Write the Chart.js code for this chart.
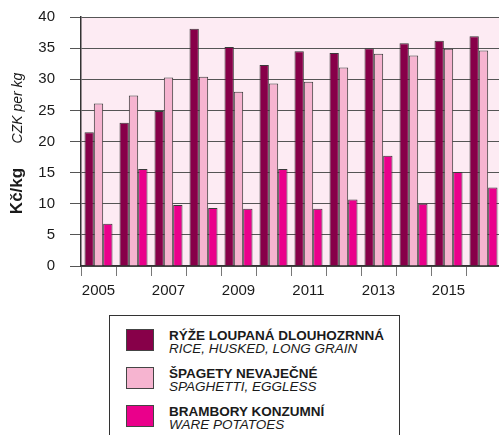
<!DOCTYPE html>
<html>
<head>
<meta charset="utf-8">
<script src="https://cdn.jsdelivr.net/npm/chart.js@4.4.1/dist/chart.umd.min.js"></script>
<style>
  html, body { margin: 0; padding: 0; background: #fff; overflow: hidden; width: 499px; height: 435px; }
  #wrap { position: absolute; left: 0; top: 0; width: 510px; height: 300px; }
  #legend { position: absolute; left: 109px; top: 315px; width: 289px; height: 140px; border: 1px solid #333; font-family: "Liberation Sans", Arial, sans-serif; color: #1a1a1a; }
  .item { position: absolute; left: 16px; }
  .sw { position: absolute; left: 0; top: 0; width: 28px; height: 22px; border: 1px solid #444; box-sizing: border-box; }
  .txt { position: absolute; left: 43px; top: 0; white-space: nowrap; font-size: 13.5px; line-height: 13px; }
  .txt b { display: block; }
  .txt i { display: block; }
</style>
</head>
<body>
<div id="wrap"><canvas id="myChart" width="510" height="300"></canvas></div>
<div id="legend"></div>
<script>
  // Données
  const years = ['2005', '2006', '2007', '2008', '2009', '2010', '2011', '2012', '2013', '2014', '2015', '2016'];
  const rice = [21.5, 23.0, 24.9, 38.1, 35.2, 32.3, 34.5, 34.2, 35.0, 35.8, 36.2, 36.9];
  const spaghetti = [26.1, 27.4, 30.3, 30.4, 28.0, 29.3, 29.6, 31.9, 34.1, 33.8, 34.9, 34.6];
  const potatoes = [6.8, 15.6, 9.8, 9.3, 9.2, 15.6, 9.2, 10.7, 17.7, 10.0, 15.1, 12.6];
  const yTicks = [0, 5, 10, 15, 20, 25, 30, 35, 40];

  const seriesCz = ['RÝŽE LOUPANÁ DLOUHOZRNNÁ', 'ŠPAGETY NEVAJEČNÉ', 'BRAMBORY KONZUMNÍ'];
  const seriesEn = ['RICE, HUSKED, LONG GRAIN', 'SPAGHETTI, EGGLESS', 'WARE POTATOES'];
  const colors = ['#870049', '#f6b4d0', '#ea008b'];

  const font = '"Liberation Sans", Arial, sans-serif';

  // fond rose de la zone du graphique + titres de l'axe Y
  const plotBg = {
    id: 'plotBg',
    beforeDraw(chart) {
      const { ctx, chartArea } = chart;
      ctx.save();
      ctx.fillStyle = '#fdebf3';
      ctx.fillRect(chartArea.left, chartArea.top, chartArea.right - chartArea.left, chartArea.bottom - chartArea.top);
      ctx.restore();
    },
    afterDraw(chart) {
      const ctx = chart.ctx;
      ctx.save();
      ctx.fillStyle = '#1a1a1a';
      ctx.textAlign = 'center';
      ctx.textBaseline = 'middle';
      ctx.translate(17, 191);
      ctx.rotate(-Math.PI / 2);
      ctx.font = 'bold 17px ' + font;
      ctx.fillText('Kč/kg', 0, 0);
      ctx.restore();
      ctx.save();
      ctx.fillStyle = '#1a1a1a';
      ctx.textAlign = 'center';
      ctx.textBaseline = 'middle';
      ctx.translate(18, 108);
      ctx.rotate(-Math.PI / 2);
      ctx.font = 'italic 14px ' + font;
      ctx.fillText('CZK per kg', 0, 0);
      ctx.restore();
    }
  };

  const datasets = [rice, spaghetti, potatoes].map((d, i) => ({
    label: seriesCz[i],
    data: d,
    backgroundColor: colors[i],
    borderColor: '#3a3a3a',
    borderWidth: 1,
    categoryPercentage: 0.8,
    barPercentage: 1.0
  }));

  const ctx = document.getElementById('myChart').getContext('2d');
  new Chart(ctx, {
    type: 'bar',
    data: { labels: years, datasets: datasets },
    options: {
      responsive: false,
      animation: false,
      layout: { padding: { top: 17, right: 9, left: 0, bottom: 0 } },
      plugins: { legend: { display: false }, tooltip: { enabled: false } },
      scales: {
        x: {
          offset: true,
          grid: { offset: true, drawOnChartArea: false, drawTicks: true, tickLength: 10, color: '#777' },
          border: { color: '#333', width: 1.5 },
          ticks: {
            autoSkip: false, maxRotation: 0, padding: 6,
            color: '#1a1a1a', font: { family: font, size: 15 },
            callback: (v, i) => (i % 2 === 0 ? years[i] : '')
          },
          afterFit(scale) { scale.height = 34; }
        },
        y: {
          min: 0, max: 40,
          afterBuildTicks(scale) { scale.ticks = yTicks.map(v => ({ value: v })); },
          grid: { color: '#555', drawTicks: true, tickLength: 11, lineWidth: 1 },
          border: { color: '#333', width: 1.5 },
          ticks: { padding: 15, color: '#1a1a1a', font: { family: font, size: 15 } },
          afterFit(scale) {
            scale.width = 81;
            scale.paddingTop = 8;
            scale.paddingBottom = 8;
          }
        }
      }
    },
    plugins: [plotBg]
  });

  // Légende
  const legend = document.getElementById('legend');
  seriesCz.forEach((name, i) => {
    const item = document.createElement('div');
    item.className = 'item';
    item.style.top = (13 + i * 38) + 'px';
    const sw = document.createElement('div');
    sw.className = 'sw';
    sw.style.background = colors[i];
    const txt = document.createElement('div');
    txt.className = 'txt';
    const b = document.createElement('b');
    b.textContent = name;
    const it = document.createElement('i');
    it.textContent = seriesEn[i];
    txt.appendChild(b);
    txt.appendChild(it);
    item.appendChild(sw);
    item.appendChild(txt);
    legend.appendChild(item);
  });
</script>
</body>
</html>
